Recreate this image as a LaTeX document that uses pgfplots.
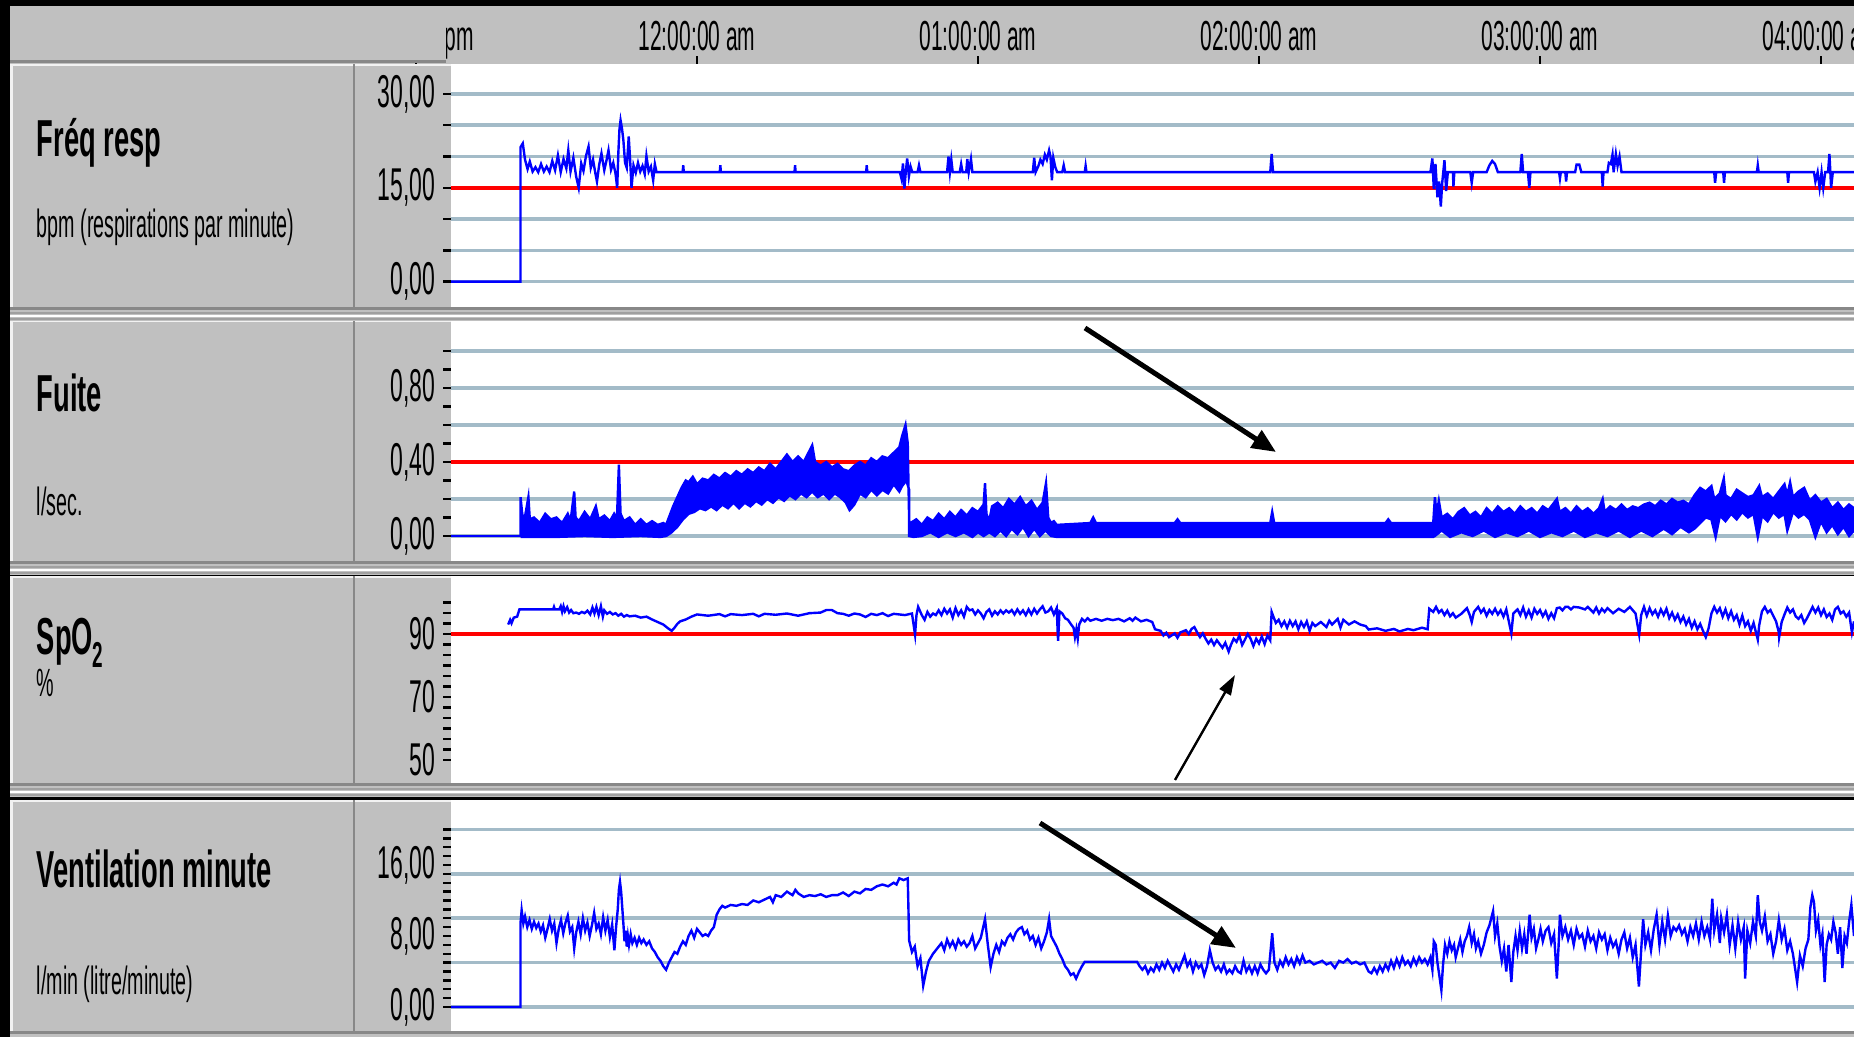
\documentclass[border=0pt]{standalone}
\usepackage{pgfplots}
\pgfplotsset{compat=1.18}
\usetikzlibrary{arrows.meta}
\usepackage{fontspec}
\setmainfont{Liberation Sans}[FakeStretch=0.5]
\newfontfamily\titlefont{Liberation Sans}[FakeStretch=0.525]

\definecolor{wingray}{RGB}{192,192,192}
\definecolor{shadow}{RGB}{136,136,136}
\definecolor{midgray}{RGB}{160,160,160}
\definecolor{gridblue}{RGB}{163,187,200}
\definecolor{plotblue}{RGB}{0,0,255}
\definecolor{alarmred}{RGB}{255,0,0}

% one panel of the trend window (1 px of the screenshot = 0.25pt)
\pgfplotsset{
  panel/.style={
    scale only axis, anchor=south west,
    width=350.75pt,
    xmin=-0.87544, xmax=4.11744,
    axis line style={draw=none},
    xtick=\empty,
    ytick pos=left,
    tick align=outside,
    major tick length=2pt, minor tick length=2pt,
    every tick/.style={black, line width=0.6pt},
    yticklabel style={font=\fontsize{11.5}{12}\selectfont, inner sep=0pt, xshift=-1.8pt},
    grid style={gridblue, line width=0.9pt},
    /pgf/number format/assume math mode=true,
  },
  blueline/.style={plotblue, line width=0.6pt},
  redline/.style={alarmred, line width=0.9pt},
}

\newcommand{\sepband}[1]{% separator between two panels, #1 = top (px)
  \fill[wingray] (10,#1) rectangle (1854,#1+14);
  \fill[shadow] (10,#1) rectangle (1854,#1+3);
  \fill[midgray] (10,#1+5) rectangle (1854,#1+7);
  \fill[white] (10,#1+8) rectangle (1854,#1+10);
  \fill[midgray] (10,#1+11) rectangle (1854,#1+13);
}
\newcommand{\panelbox}[2]{% gray label column and white plot area, #1 top, #2 bottom
  \fill[wingray] (10,#1) rectangle (451,#2);
  \fill[white!90!gray] (10,#1) rectangle (13,#2);
  \fill[white!90!gray] (10,#1) rectangle (451,#1+2);
  \fill[white] (451,#1) rectangle (1854,#2);
  \draw[shadow, line width=0.35pt] (354,#1) -- (354,#2);
}

\begin{document}
\begin{tikzpicture}[x=0.25pt, y=0.25pt]

% ---- window chrome (screen coordinates, y downwards)
\begin{scope}[y=-0.25pt, shift={(0pt,259.25pt)}]
  \fill[black] (0,0) rectangle (1854,1037);
  \fill[wingray] (10,6) rectangle (1854,64);
  \panelbox{64}{307}
  \panelbox{320}{561}
  \panelbox{576}{783}
  \panelbox{800}{1031}
  \sepband{307}
  \sepband{561}
  \sepband{783}
  \fill[wingray] (10,1031) rectangle (1854,1037);
  \fill[shadow] (10,1031) rectangle (1854,1034);
\end{scope}

% ---- time scale in the header
\begin{axis}[
  scale only axis, anchor=south west, at={(82.925pt,243.25pt)},
  width=380.575pt, height=4pt,
  xmin=-1.3, xmax=4.11744, ymin=0, ymax=1,
  axis line style={draw=none}, ytick=\empty,
  xtick={-1,0,1,2,3,4},
  xticklabels={11:00:00 pm,12:00:00 am,01:00:00 am,02:00:00 am,03:00:00 am,04:00:00 am},
  xtick pos=bottom, tick align=inside, major tick length=2pt,
  every tick/.style={black, line width=0.4pt},
  xticklabel style={font=\fontsize{10.5}{12}\selectfont, anchor=base, inner sep=0pt, yshift=3.25pt},
]
\end{axis}

\begin{scope}[y=-0.25pt, shift={(0pt,259.25pt)}]
  \fill[wingray] (10,6) rectangle (446,60);
  \fill[shadow] (10,60) rectangle (446,63);
\end{scope}

% ---- Fréq resp
\begin{axis}[panel, at={(112.75pt,182.5pt)}, height=60.75pt,
  ymin=-4.043, ymax=34.793,
  ytick={0,15,30}, yticklabels={{0,00},{15,00},{30,00}},
  extra y ticks={0,5,10,15,20,25,30}, extra y tick labels={},
  extra y tick style={grid=major},
]
\addplot[redline] coordinates {(-0.87544,15)(4.11744,15)};
\addplot[blueline] coordinates {
(-0.87544,0)(-0.628,0)
(-0.628,21.5)(-0.620,22.1)(-0.612,19.5)(-0.603,18.0)(-0.595,19.2)(-0.585,17.6)(-0.575,18.3)(-0.565,17.5)
(-0.555,18.8)(-0.545,17.6)(-0.535,18.4)(-0.525,17.5)(-0.515,19.3)(-0.505,17.8)(-0.495,20.2)(-0.485,17.5)
(-0.475,19.6)(-0.465,18.1)(-0.458,21.0)(-0.450,17.6)(-0.440,19.8)(-0.430,16.8)(-0.421,15.0)(-0.412,18.9)
(-0.404,17.7)(-0.395,20.1)(-0.386,21.6)(-0.378,18.2)(-0.370,19.5)(-0.362,17.4)(-0.356,16.0)(-0.348,18.7)
(-0.340,20.5)(-0.330,17.8)(-0.322,19.4)(-0.315,21.0)(-0.306,17.9)(-0.298,19.0)(-0.290,17.3)(-0.284,15.0)
(-0.280,20.5)(-0.276,24.3)(-0.272,25.8)(-0.267,24.5)(-0.262,22.6)(-0.256,19.0)(-0.250,18.2)(-0.243,23.2)
(-0.238,19.5)(-0.233,15.0)(-0.226,18.6)(-0.218,17.4)(-0.210,19.0)(-0.202,17.6)(-0.194,18.5)(-0.186,17.2)
(-0.180,20.1)(-0.172,17.6)(-0.164,18.4)(-0.156,16.2)(-0.150,18.8)(-0.144,17.5)
(-0.051,17.5)(-0.049,18.6)(-0.047,17.5)(0.081,17.5)(0.083,18.6)(0.085,17.5)
(0.347,17.5)(0.349,18.6)(0.351,17.5)(0.602,17.5)(0.604,18.6)(0.606,17.5)
(0.722,17.5)(0.728,16.4)(0.733,18.9)(0.738,14.9)(0.743,17.5)(0.748,19.7)(0.754,16.8)(0.760,18.4)(0.766,17.5)
(0.785,17.5)(0.790,18.6)(0.795,17.5)
(0.890,17.5)(0.895,20.0)(0.900,17.5)(0.905,19.5)(0.910,17.5)(0.935,17.5)(0.940,18.8)(0.945,17.5)
(0.958,17.5)(0.962,19.6)(0.967,17.5)(0.975,19.6)(0.980,17.5)
(1.195,17.5)(1.200,19.8)(1.205,17.5)(1.215,18.5)(1.222,19.5)(1.230,18.8)(1.238,20.3)(1.245,19.5)
(1.253,21.0)(1.258,20.0)(1.263,16.2)(1.268,19.8)(1.275,18.3)(1.282,17.5)(1.300,17.5)(1.305,18.6)(1.310,17.5)
(1.380,17.5)(1.383,18.5)(1.386,17.5)
(2.040,17.5)(2.045,20.4)(2.050,17.5)
(2.610,17.5)(2.617,19.7)(2.622,14.8)(2.628,18.8)(2.635,13.5)(2.641,16.0)(2.647,12.0)(2.652,15.8)
(2.660,19.4)(2.666,14.5)(2.672,17.5)(2.690,17.5)(2.692,15.2)(2.695,17.5)
(2.752,17.5)(2.757,15.8)(2.762,17.5)
(2.810,17.5)(2.820,18.6)(2.830,19.3)(2.840,18.8)(2.850,17.5)
(2.930,17.5)(2.935,20.4)(2.940,17.5)(2.957,17.5)(2.962,15.0)(2.966,17.5)
(3.068,17.5)(3.071,16.5)(3.074,17.5)(3.090,17.5)(3.093,16.0)(3.096,17.5)
(3.125,17.5)(3.130,18.7)(3.140,18.7)(3.147,17.5)
(3.220,17.5)(3.223,15.2)(3.226,17.5)
(3.240,17.5)(3.245,19.0)(3.252,18.8)(3.258,20.3)(3.262,17.5)(3.270,20.4)(3.276,18.5)(3.283,20.0)(3.290,17.5)
(3.620,17.5)(3.623,15.8)(3.627,17.5)(3.652,17.5)(3.655,15.8)(3.658,17.5)
(3.772,17.5)(3.775,18.6)(3.778,17.5)
(3.880,17.5)(3.883,15.8)(3.886,17.5)
(3.975,17.5)(3.980,16.0)(3.988,17.5)(3.995,15.0)(4.002,17.5)(4.008,15.0)(4.015,17.5)(4.025,17.5)
(4.030,20.4)(4.036,15.0)(4.042,17.5)(4.11744,17.5)
};
\end{axis}

% ---- Fuite
\begin{axis}[panel, at={(112.75pt,119pt)}, height=60.25pt,
  ymin=-0.1351, ymax=1.1676,
  ytick={0,0.4,0.8}, yticklabels={{0,00},{0,40},{0,80}},
  minor ytick={0.1,0.2,0.3,0.5,0.6,0.7,0.9,1.0},
  extra y ticks={0,0.2,0.4,0.6,0.8,1.0}, extra y tick labels={},
  extra y tick style={grid=major},
]
\addplot[redline] coordinates {(-0.87544,0.4)(4.11744,0.4)};
\addplot[blueline] coordinates {(-0.87544,0)(-0.628,0)};
% dense leak signal: upper envelope left to right, then lower envelope back
\addplot[blueline, fill=plotblue] coordinates {
(-0.628,0.0)(-0.628,0.21)(-0.622,0.12)(-0.615,0.08)(-0.600,0.21)(-0.595,0.09)(-0.58,0.10)(-0.56,0.07)
(-0.54,0.12)(-0.52,0.09)(-0.50,0.10)(-0.48,0.07)(-0.46,0.12)(-0.45,0.08)(-0.437,0.24)(-0.432,0.10)
(-0.42,0.08)(-0.40,0.13)(-0.38,0.09)(-0.36,0.16)(-0.35,0.09)(-0.33,0.11)(-0.31,0.08)(-0.295,0.12)
(-0.285,0.09)(-0.278,0.385)(-0.272,0.12)(-0.26,0.08)(-0.24,0.10)(-0.22,0.06)(-0.20,0.09)(-0.18,0.06)
(-0.16,0.08)(-0.14,0.06)(-0.12,0.07)(-0.11,0.06)
(-0.10,0.10)(-0.085,0.16)(-0.07,0.21)(-0.055,0.26)(-0.04,0.30)(-0.03,0.29)(-0.015,0.32)(0.0,0.28)
(0.02,0.31)(0.04,0.30)(0.06,0.33)(0.08,0.31)(0.10,0.34)(0.12,0.32)(0.14,0.35)(0.16,0.33)(0.18,0.36)
(0.20,0.34)(0.22,0.37)(0.24,0.35)(0.26,0.39)(0.28,0.36)(0.30,0.40)(0.32,0.44)(0.34,0.40)(0.36,0.43)
(0.38,0.40)(0.40,0.46)(0.41,0.49)(0.42,0.40)(0.44,0.38)(0.46,0.40)(0.48,0.37)(0.50,0.39)(0.52,0.36)
(0.54,0.35)(0.56,0.38)(0.58,0.40)(0.60,0.38)(0.62,0.42)(0.64,0.40)(0.66,0.43)(0.68,0.42)(0.70,0.45)
(0.72,0.48)(0.73,0.54)(0.742,0.60)(0.75,0.50)(0.755,0.08)
(0.76,0.07)(0.78,0.09)(0.80,0.06)(0.82,0.10)(0.84,0.08)(0.86,0.12)(0.88,0.09)(0.90,0.13)(0.92,0.10)
(0.94,0.14)(0.96,0.11)(0.98,0.15)(1.00,0.13)(1.02,0.17)(1.025,0.285)(1.03,0.12)(1.04,0.08)(1.05,0.16)
(1.07,0.18)(1.09,0.15)(1.11,0.20)(1.13,0.17)(1.15,0.21)(1.17,0.16)(1.19,0.19)(1.21,0.14)(1.23,0.18)
(1.242,0.285)(1.25,0.10)(1.26,0.07)(1.27,0.08)(1.28,0.06)
(1.40,0.07)(1.41,0.10)(1.42,0.07)(1.70,0.07)(1.71,0.09)(1.72,0.07)(2.04,0.07)(2.047,0.13)(2.054,0.07)
(2.45,0.07)(2.46,0.09)(2.47,0.07)(2.62,0.07)
(2.626,0.21)(2.632,0.12)(2.64,0.19)(2.65,0.10)(2.67,0.12)(2.69,0.09)(2.71,0.13)(2.73,0.15)(2.75,0.11)
(2.77,0.13)(2.79,0.10)(2.81,0.15)(2.83,0.12)(2.85,0.16)(2.87,0.13)(2.89,0.15)(2.91,0.12)(2.93,0.16)
(2.95,0.13)(2.97,0.15)(2.99,0.12)(3.01,0.16)(3.03,0.14)(3.06,0.20)(3.07,0.13)(3.09,0.15)(3.11,0.12)
(3.13,0.16)(3.15,0.13)(3.17,0.15)(3.19,0.12)(3.21,0.15)(3.223,0.20)(3.23,0.13)(3.25,0.16)(3.27,0.14)
(3.29,0.17)(3.31,0.14)(3.33,0.16)(3.35,0.15)(3.37,0.17)(3.39,0.18)(3.41,0.16)(3.43,0.19)(3.45,0.17)
(3.47,0.20)(3.49,0.18)(3.51,0.19)(3.53,0.17)(3.55,0.22)(3.57,0.26)(3.59,0.24)(3.61,0.27)(3.62,0.20)
(3.64,0.23)(3.654,0.31)(3.66,0.22)(3.68,0.20)(3.70,0.25)(3.72,0.23)(3.74,0.21)(3.76,0.22)(3.78,0.27)
(3.79,0.21)(3.81,0.23)(3.83,0.20)(3.85,0.24)(3.87,0.28)(3.88,0.22)(3.89,0.29)(3.90,0.21)(3.92,0.24)
(3.94,0.26)(3.96,0.19)(3.98,0.22)(4.00,0.18)(4.02,0.20)(4.04,0.15)(4.06,0.18)(4.08,0.14)(4.10,0.17)
(4.11744,0.15)
(4.11744,0.03)(4.10,0.0)(4.08,0.05)(4.06,0.01)(4.04,0.06)(4.02,0.02)(4.00,0.08)(3.98,-0.005)(3.96,0.09)
(3.94,0.12)(3.92,0.10)(3.90,0.13)(3.88,0.03)(3.87,0.12)(3.85,0.10)(3.83,0.13)(3.81,0.08)(3.79,0.11)
(3.775,-0.005)(3.76,0.12)(3.74,0.10)(3.72,0.13)(3.70,0.09)(3.68,0.12)(3.66,0.08)(3.64,0.11)(3.625,-0.005)
(3.61,0.09)(3.59,0.10)(3.57,0.07)(3.55,0.04)(3.53,0.02)(3.50,0.05)(3.47,0.01)(3.44,0.04)(3.40,0.0)
(3.36,0.03)(3.32,-0.005)(3.28,0.03)(3.24,0.0)(3.20,0.02)(3.16,-0.005)(3.12,0.03)(3.08,0.0)(3.04,0.02)
(3.00,-0.005)(2.96,0.03)(2.92,0.0)(2.88,0.02)(2.84,-0.005)(2.80,0.03)(2.76,0.0)(2.72,0.02)(2.68,-0.005)
(2.65,0.03)(2.626,0.0)(2.62,-0.005)(1.28,-0.005)
(1.26,0.0)(1.24,0.03)(1.22,0.0)(1.20,0.04)(1.18,0.0)(1.16,0.05)(1.14,0.01)(1.12,0.04)(1.10,0.0)
(1.08,0.03)(1.06,0.0)(1.04,0.02)(1.02,0.0)(1.00,0.02)(0.98,-0.005)(0.95,0.02)(0.92,0.0)(0.89,0.02)
(0.86,-0.005)(0.83,0.02)(0.80,0.0)(0.77,-0.005)(0.755,0.0)
(0.755,0.25)(0.745,0.30)(0.73,0.27)(0.72,0.24)(0.70,0.28)(0.68,0.23)(0.66,0.25)(0.64,0.22)(0.62,0.25)
(0.60,0.21)(0.58,0.23)(0.56,0.17)(0.543,0.14)(0.53,0.18)(0.51,0.21)(0.49,0.23)(0.47,0.20)(0.45,0.23)
(0.43,0.21)(0.41,0.24)(0.39,0.21)(0.37,0.23)(0.35,0.20)(0.33,0.22)(0.31,0.19)(0.29,0.21)(0.27,0.18)
(0.25,0.20)(0.23,0.17)(0.21,0.19)(0.19,0.16)(0.17,0.18)(0.15,0.15)(0.13,0.18)(0.11,0.15)(0.09,0.17)
(0.07,0.14)(0.05,0.16)(0.03,0.14)(0.01,0.15)(-0.01,0.13)(-0.03,0.12)(-0.05,0.09)(-0.07,0.05)
(-0.09,0.02)(-0.11,0.0)(-0.13,-0.005)(-0.20,0.0)(-0.30,-0.005)(-0.40,0.0)(-0.50,-0.005)(-0.628,-0.005)
};
\end{axis}

% ---- SpO2
\begin{axis}[panel, at={(112.75pt,63.5pt)}, height=51.75pt,
  ymin=42.698, ymax=108.41,
  ytick={50,70,90}, yticklabels={50,70,90},
  minor ytick={53.33,56.67,60,63.33,66.67,73.33,76.67,80,83.33,86.67,93.33,96.67,100},
]
\addplot[redline] coordinates {(-0.87544,90)(4.11744,90)};
\addplot[blueline] coordinates {
(-0.672,93.0)(-0.665,94.5)(-0.660,93.4)(-0.652,95.2)(-0.640,95.5)(-0.632,97.8)(-0.58,97.8)(-0.55,97.8)
(-0.512,97.8)(-0.509,98.6)(-0.506,97.8)(-0.49,97.8)(-0.485,98.8)(-0.48,97.0)(-0.475,98.8)(-0.47,97.2)
(-0.462,98.5)(-0.455,96.8)(-0.448,97.6)(-0.44,96.6)(-0.43,96.8)(-0.42,96.4)(-0.41,97.0)(-0.40,96.6)
(-0.39,97.4)(-0.38,96.2)(-0.372,98.4)(-0.365,96.5)(-0.358,98.6)(-0.35,96.0)(-0.342,98.8)(-0.335,95.5)
(-0.33,97.5)(-0.32,96.4)(-0.31,97.0)(-0.30,96.2)(-0.29,96.6)(-0.28,95.8)(-0.27,96.4)(-0.26,95.5)
(-0.25,96.0)(-0.24,95.6)(-0.22,95.8)(-0.20,95.2)(-0.18,95.5)(-0.16,94.6)(-0.14,93.8)(-0.12,93.0)
(-0.10,91.6)(-0.09,91.0)(-0.08,92.0)(-0.07,93.2)(-0.06,94.0)(-0.04,94.6)(-0.02,95.5)
(0.0,96.2)(0.04,95.8)(0.08,96.3)(0.10,95.6)(0.12,96.3)(0.16,96.0)(0.20,96.4)(0.22,95.6)(0.24,96.4)
(0.28,96.1)(0.32,96.5)(0.36,95.8)(0.40,96.6)(0.44,96.8)(0.46,97.6)(0.48,97.6)(0.50,96.6)(0.52,96.4)
(0.54,95.8)(0.56,96.5)(0.58,96.2)(0.60,95.4)(0.62,96.4)(0.64,96.0)(0.66,96.6)(0.68,95.7)(0.70,96.4)
(0.72,96.2)(0.74,96.0)(0.765,96.5)(0.776,89.8)(0.781,96.0)
(0.787,98.6)(0.80,96.0)(0.81,94.5)(0.82,97.0)(0.83,95.5)(0.84,96.5)(0.85,96.0)(0.86,97.5)(0.87,96.0)
(0.88,98.0)(0.89,96.5)(0.90,97.8)(0.91,95.2)(0.92,98.2)(0.93,96.0)(0.94,97.5)(0.95,95.5)(0.96,98.6)
(0.97,97.5)(0.98,97.8)(0.99,96.2)(1.00,97.5)(1.01,96.5)(1.02,95.0)(1.03,97.0)(1.04,97.8)(1.05,95.8)
(1.06,97.2)(1.07,96.2)(1.08,97.5)(1.09,96.5)(1.10,97.5)(1.11,96.8)(1.12,97.6)(1.13,96.2)(1.14,97.8)
(1.15,96.4)(1.16,97.5)(1.17,96.0)(1.18,97.8)(1.19,96.2)(1.20,98.0)(1.21,96.5)(1.22,97.8)(1.23,98.8)
(1.24,96.8)(1.25,97.2)(1.26,98.4)(1.27,96.2)(1.28,98.2)(1.285,87.8)(1.29,97.2)(1.30,96.5)(1.31,95.0)
(1.32,94.5)(1.33,93.2)(1.34,92.0)(1.345,89.0)(1.35,91.5)(1.355,88.5)(1.36,93.0)(1.37,94.8)(1.38,94.0)
(1.39,95.0)(1.40,94.2)(1.42,94.8)(1.44,94.2)(1.46,94.8)(1.48,94.4)(1.50,94.8)(1.52,94.0)(1.54,95.0)
(1.55,94.2)(1.56,95.2)(1.58,94.0)(1.60,94.5)(1.62,93.8)(1.63,91.5)(1.65,91.0)(1.66,89.5)(1.67,90.4)
(1.68,89.0)(1.70,90.2)(1.71,88.8)(1.72,90.5)(1.74,91.2)(1.75,90.0)(1.76,91.6)(1.77,92.2)(1.78,90.5)
(1.79,89.0)(1.80,90.2)(1.81,88.5)(1.82,87.0)(1.83,88.2)(1.84,86.5)(1.85,88.0)(1.86,86.8)(1.87,85.6)
(1.88,87.2)(1.892,84.4)(1.90,86.5)(1.91,88.5)(1.92,87.5)(1.93,89.5)(1.94,86.5)(1.95,88.2)(1.96,90.0)
(1.97,88.5)(1.98,86.2)(1.99,88.5)(2.00,87.0)(2.01,89.2)(2.02,86.8)(2.03,89.5)(2.04,88.0)(2.045,97.0)
(2.05,95.8)(2.06,93.5)(2.07,94.5)(2.08,92.5)(2.09,94.0)(2.10,92.0)(2.11,94.2)(2.12,92.5)(2.13,94.0)
(2.14,91.5)(2.15,93.8)(2.16,92.2)(2.17,94.0)(2.18,91.0)(2.19,93.5)(2.20,92.5)(2.22,93.8)(2.24,92.2)
(2.25,94.2)(2.26,93.0)(2.28,94.8)(2.29,92.0)(2.30,94.5)(2.32,93.0)(2.34,94.0)(2.36,93.0)(2.38,92.5)
(2.39,91.4)(2.42,91.8)(2.45,91.0)(2.48,91.6)(2.50,90.8)(2.53,91.6)(2.55,91.2)(2.58,92.0)(2.60,91.5)
(2.606,98.0)(2.62,97.0)(2.63,98.6)(2.64,96.8)(2.65,97.6)(2.66,96.0)(2.67,97.4)(2.68,95.6)(2.69,96.6)
(2.70,95.2)(2.72,96.4)(2.74,98.2)(2.75,96.0)(2.757,93.8)(2.765,97.0)(2.78,98.6)(2.79,96.8)(2.80,98.0)
(2.81,95.8)(2.82,97.6)(2.83,96.4)(2.84,98.0)(2.85,96.2)(2.86,97.5)(2.87,95.5)(2.88,97.8)(2.898,90.2)
(2.905,96.5)(2.92,97.8)(2.93,96.0)(2.94,98.4)(2.95,95.5)(2.96,97.5)(2.97,95.2)(2.98,98.0)(2.99,96.4)
(3.00,97.6)(3.01,95.6)(3.02,97.2)(3.03,94.8)(3.04,96.6)(3.05,95.0)(3.06,98.2)(3.07,98.4)(3.08,97.5)
(3.09,98.6)(3.10,98.6)(3.11,97.8)(3.12,98.6)(3.14,98.4)(3.16,97.8)(3.17,98.6)(3.19,96.8)(3.20,98.4)
(3.21,96.5)(3.22,98.0)(3.23,97.0)(3.24,98.2)(3.26,96.6)(3.28,98.0)(3.30,97.0)(3.32,98.6)(3.34,96.5)
(3.353,89.8)(3.36,96.0)(3.37,98.6)(3.38,95.8)(3.39,98.2)(3.40,96.2)(3.41,97.5)(3.42,95.5)(3.43,97.8)
(3.44,96.0)(3.45,98.0)(3.46,95.0)(3.47,96.8)(3.48,94.5)(3.49,96.2)(3.50,93.8)(3.51,95.5)(3.52,93.0)
(3.53,94.8)(3.54,92.0)(3.55,94.0)(3.56,91.5)(3.57,93.2)(3.58,91.0)(3.59,89.0)(3.60,91.8)(3.61,96.5)
(3.62,98.6)(3.63,96.8)(3.64,98.2)(3.65,95.5)(3.66,97.8)(3.67,95.0)(3.68,97.2)(3.69,94.5)(3.70,96.0)
(3.71,93.0)(3.72,95.8)(3.73,92.5)(3.74,94.0)(3.75,91.0)(3.76,93.5)(3.775,88.2)(3.78,92.8)(3.79,97.2)
(3.80,98.6)(3.81,96.8)(3.82,97.6)(3.83,95.8)(3.84,94.0)(3.85,90.5)(3.851,89.0)(3.86,93.8)(3.87,96.2)
(3.88,98.4)(3.89,96.8)(3.90,97.8)(3.91,95.6)(3.92,94.8)(3.93,96.0)(3.94,93.5)(3.95,95.0)(3.96,96.8)
(3.97,98.6)(3.98,96.8)(3.99,98.4)(4.00,96.0)(4.01,97.8)(4.02,95.4)(4.03,96.5)(4.04,94.5)(4.05,97.8)
(4.06,98.6)(4.07,96.5)(4.08,97.2)(4.09,95.5)(4.10,96.8)(4.11,90.5)(4.11744,94.0)
};
\end{axis}

% ---- Ventilation minute
\begin{axis}[panel, at={(112.75pt,1.5pt)}, height=57.75pt,
  ymin=-2.704, ymax=23.324,
  ytick={0,8,16}, yticklabels={{0,00},{8,00},{16,00}},
  minor ytick={1,2,...,20},
  extra y ticks={0,5,10,15,20}, extra y tick labels={},
  extra y tick style={grid=major},
]
\addplot[blueline] coordinates {
(-0.87544,0)(-0.628,0)(-0.628,9.5)(-0.624,10.9)(-0.618,9.4)(-0.612,10.2)(-0.604,9.0)(-0.596,9.8)
(-0.588,8.8)(-0.58,9.6)(-0.572,8.9)(-0.564,9.4)(-0.556,8.5)(-0.548,9.2)(-0.54,7.8)(-0.532,8.8)
(-0.524,9.9)(-0.516,8.6)(-0.508,9.4)(-0.50,7.2)(-0.492,8.8)(-0.484,9.8)(-0.476,8.3)(-0.468,9.5)
(-0.46,10.3)(-0.452,8.5)(-0.444,9.0)(-0.437,6.6)(-0.43,8.4)(-0.422,9.6)(-0.414,8.2)(-0.406,10.0)
(-0.398,8.6)(-0.39,9.5)(-0.382,8.0)(-0.374,9.2)(-0.366,10.6)(-0.358,8.8)(-0.35,9.4)(-0.342,8.2)
(-0.334,10.1)(-0.326,8.6)(-0.318,9.8)(-0.31,7.9)(-0.302,9.3)(-0.294,6.4)(-0.288,9.0)(-0.282,11.0)
(-0.278,13.2)(-0.274,14.1)(-0.270,13.0)(-0.266,11.2)(-0.262,9.4)(-0.258,7.4)(-0.254,8.6)(-0.25,6.8)
(-0.246,8.0)(-0.242,7.0)(-0.236,8.2)(-0.23,7.2)(-0.222,7.8)(-0.214,7.0)(-0.206,7.8)(-0.198,7.2)
(-0.19,7.6)(-0.18,7.0)(-0.17,7.4)(-0.16,6.6)(-0.15,6.2)(-0.14,5.6)(-0.13,5.2)(-0.12,4.6)(-0.11,4.2)
(-0.10,5.0)(-0.09,5.6)(-0.08,6.2)(-0.07,6.0)(-0.06,6.8)(-0.05,7.4)(-0.04,7.0)(-0.03,8.0)(-0.02,8.6)
(-0.01,7.8)(0.0,8.8)(0.01,8.4)(0.02,8.0)(0.03,8.2)(0.04,8.0)(0.05,8.6)(0.06,9.0)(0.07,10.4)(0.08,11.0)
(0.09,11.4)(0.10,11.2)(0.12,11.5)(0.14,11.4)(0.16,11.6)(0.18,11.5)(0.20,12.0)(0.22,11.8)(0.24,12.1)
(0.26,12.4)(0.27,11.8)(0.28,12.6)(0.30,12.4)(0.32,13.0)(0.34,12.6)(0.35,13.2)(0.36,12.8)(0.38,12.4)
(0.40,12.6)(0.42,12.5)(0.44,12.7)(0.46,12.4)(0.48,12.6)(0.50,12.6)(0.52,12.9)(0.54,12.5)(0.56,13.0)
(0.58,12.8)(0.60,13.3)(0.62,13.2)(0.64,13.6)(0.66,13.8)(0.68,13.6)(0.70,14.0)(0.71,13.8)(0.72,14.5)
(0.735,14.3)(0.75,14.5)(0.755,7.5)(0.765,6.2)(0.775,6.8)(0.785,4.6)(0.795,5.5)(0.805,2.4)(0.815,4.0)
(0.825,5.2)(0.84,6.0)(0.855,6.6)(0.87,7.2)(0.88,6.4)(0.89,7.6)(0.90,6.8)(0.91,7.4)(0.92,6.6)(0.93,7.6)
(0.94,7.0)(0.95,7.4)(0.96,6.8)(0.97,7.2)(0.98,8.0)(0.99,6.6)(1.00,7.2)(1.01,7.8)(1.025,9.9)(1.035,7.0)
(1.045,4.5)(1.055,6.0)(1.065,7.0)(1.075,6.2)(1.085,7.4)(1.095,7.0)(1.105,7.8)(1.115,8.2)(1.125,7.6)
(1.135,8.4)(1.145,8.8)(1.156,9.0)(1.165,8.2)(1.175,8.6)(1.185,7.6)(1.195,8.0)(1.205,7.0)(1.215,7.8)
(1.225,6.6)(1.235,7.4)(1.245,8.4)(1.253,9.9)(1.26,8.0)(1.27,7.4)(1.28,6.8)(1.29,6.0)(1.30,5.4)
(1.31,4.6)(1.32,4.2)(1.33,3.6)(1.34,3.8)(1.349,3.2)(1.36,4.0)(1.37,4.6)(1.38,5.1)(1.40,5.1)(1.45,5.1)
(1.50,5.1)(1.55,5.1)(1.566,5.1)(1.575,4.6)(1.585,4.2)(1.595,4.6)(1.605,3.8)(1.615,4.4)(1.625,4.0)
(1.635,4.8)(1.645,4.2)(1.655,5.0)(1.665,4.4)(1.675,5.2)(1.685,4.6)(1.695,4.0)(1.705,4.8)(1.715,4.2)
(1.725,5.0)(1.735,5.8)(1.745,4.6)(1.755,5.2)(1.765,4.0)(1.775,5.0)(1.785,4.4)(1.795,4.8)(1.805,3.6)
(1.815,4.6)(1.825,6.4)(1.835,5.0)(1.845,4.2)(1.855,4.6)(1.865,4.0)(1.875,4.8)(1.885,3.8)(1.895,4.2)
(1.905,3.8)(1.915,4.6)(1.925,4.0)(1.935,3.8)(1.945,5.2)(1.955,4.0)(1.965,4.6)(1.975,3.8)(1.985,4.6)
(1.995,3.8)(2.005,4.8)(2.015,4.2)(2.025,3.8)(2.035,4.2)(2.047,8.3)(2.055,5.0)(2.065,4.2)(2.075,5.2)
(2.085,4.6)(2.095,5.6)(2.105,4.8)(2.115,5.4)(2.125,4.6)(2.135,5.6)(2.145,4.9)(2.155,5.8)(2.165,5.0)
(2.18,5.2)(2.195,4.8)(2.21,5.0)(2.225,5.2)(2.24,4.8)(2.255,5.0)(2.27,4.4)(2.285,5.2)(2.30,5.0)
(2.315,5.4)(2.33,4.9)(2.345,5.1)(2.36,4.8)(2.375,5.0)(2.39,4.0)(2.40,3.8)(2.41,4.4)(2.42,3.8)(2.43,4.6)
(2.44,4.0)(2.45,4.8)(2.46,4.2)(2.47,5.2)(2.48,4.4)(2.49,5.4)(2.50,4.6)(2.51,5.6)(2.52,4.8)(2.53,5.2)
(2.54,4.6)(2.55,5.5)(2.56,4.8)(2.57,5.6)(2.58,5.0)(2.59,5.4)(2.60,4.8)(2.61,5.6)(2.617,4.2)(2.622,7.4)
(2.629,7.0)(2.635,5.0)(2.642,3.5)(2.649,1.9)(2.655,4.8)(2.662,7.0)(2.67,6.0)(2.678,7.4)(2.686,6.4)
(2.694,7.0)(2.70,5.6)(2.708,6.6)(2.716,7.6)(2.724,6.2)(2.732,7.4)(2.74,8.0)(2.748,9.0)(2.757,7.2)
(2.765,8.2)(2.772,6.6)(2.78,7.4)(2.79,6.0)(2.80,7.0)(2.81,8.4)(2.82,9.2)(2.833,10.8)(2.84,8.0)
(2.848,9.4)(2.856,6.8)(2.864,5.2)(2.872,6.6)(2.88,4.0)(2.888,7.0)(2.898,2.8)(2.905,6.2)(2.913,8.0)
(2.92,6.4)(2.928,8.6)(2.936,6.6)(2.944,8.2)(2.952,6.0)(2.963,10.4)(2.97,7.8)(2.978,8.8)(2.986,6.6)
(2.994,7.6)(3.002,8.8)(3.01,7.4)(3.02,8.6)(3.03,9.0)(3.04,7.2)(3.05,8.2)(3.06,3.2)(3.066,6.8)
(3.071,10.4)(3.08,8.0)(3.09,9.0)(3.10,7.6)(3.11,8.6)(3.12,7.0)(3.13,8.8)(3.14,7.8)(3.15,8.2)(3.16,6.8)
(3.17,8.6)(3.18,7.4)(3.19,8.0)(3.20,6.6)(3.21,8.4)(3.22,7.6)(3.23,8.2)(3.24,6.4)(3.25,7.8)(3.26,6.8)
(3.27,7.4)(3.28,6.0)(3.29,7.6)(3.30,8.4)(3.31,6.6)(3.32,7.8)(3.33,5.6)(3.34,7.0)(3.352,2.3)(3.36,6.4)
(3.367,9.9)(3.375,7.0)(3.385,8.4)(3.395,6.4)(3.405,8.8)(3.415,10.4)(3.425,7.0)(3.435,9.6)(3.445,7.6)
(3.455,10.3)(3.465,8.0)(3.475,9.0)(3.485,8.6)(3.495,9.2)(3.505,8.2)(3.515,8.8)(3.525,7.4)(3.535,9.0)
(3.545,8.0)(3.555,9.4)(3.565,7.6)(3.575,9.6)(3.585,8.0)(3.595,9.0)(3.605,7.6)(3.613,12.2)(3.62,8.6)
(3.63,10.4)(3.64,7.2)(3.645,10.0)(3.655,8.4)(3.665,10.4)(3.675,7.0)(3.685,9.2)(3.695,6.6)(3.705,9.6)
(3.715,7.6)(3.725,9.0)(3.73,3.2)(3.738,8.6)(3.748,7.2)(3.758,9.6)(3.768,8.0)(3.775,12.6)(3.782,9.6)
(3.79,8.6)(3.80,10.2)(3.81,7.4)(3.82,8.2)(3.83,6.0)(3.84,7.4)(3.85,9.8)(3.86,7.6)(3.87,8.8)(3.88,6.4)
(3.89,7.4)(3.90,6.0)(3.915,2.8)(3.925,5.8)(3.935,4.6)(3.945,6.6)(3.955,7.6)(3.962,11.2)(3.969,12.6)
(3.975,11.8)(3.982,8.6)(3.99,9.8)(3.998,7.0)(4.005,8.2)(4.013,2.8)(4.02,7.0)(4.028,8.2)(4.036,7.6)
(4.044,9.6)(4.052,8.4)(4.06,6.0)(4.068,9.0)(4.076,4.4)(4.084,8.0)(4.092,7.2)(4.10,9.6)(4.108,11.5)
(4.11744,8.0)
};
\end{axis}

% ---- panel titles, units and annotation arrows (screen coordinates)
\begin{scope}[y=-0.25pt, shift={(0pt,259.25pt)}, every node/.style={inner sep=0pt, anchor=base west}]
  \node[font={\fontsize{13}{15}\titlefont\bfseries}] at (36,157) {Fréq resp};
  \node[font={\fontsize{9.85}{11}\selectfont}] at (36,238) {bpm (respirations par minute)};
  \node[font={\fontsize{13}{15}\titlefont\bfseries}] at (36,412) {Fuite};
  \node[font={\fontsize{9.85}{11}\selectfont}] at (36,516) {l/sec.};
  \node[font={\fontsize{13}{15}\titlefont\bfseries}] at (36,655) {SpO{\fontsize{9}{10}\selectfont\raisebox{-3.25pt}{2}}};
  \node[font={\fontsize{9.85}{11}\selectfont}] at (36,697) {\%};
  \node[font={\fontsize{13}{15}\titlefont\bfseries}] at (36,888) {Ventilation minute};
  \node[font={\fontsize{9.85}{11}\selectfont}] at (36,995) {l/min (litre/minute)};
  \draw[black, line width=1.25pt, -{Triangle[length=6pt, width=5pt]}] (1085,328) -- (1276,452);
  \draw[black, line width=0.6pt, -{Triangle[length=5pt, width=3.2pt]}] (1175,780) -- (1235,675);
  \draw[black, line width=1.25pt, -{Triangle[length=6pt, width=5pt]}] (1040,823) -- (1236,948);
\end{scope}

\pgfresetboundingbox
\path[use as bounding box] (0,0) rectangle (1854,1037);
\end{tikzpicture}
\end{document}
